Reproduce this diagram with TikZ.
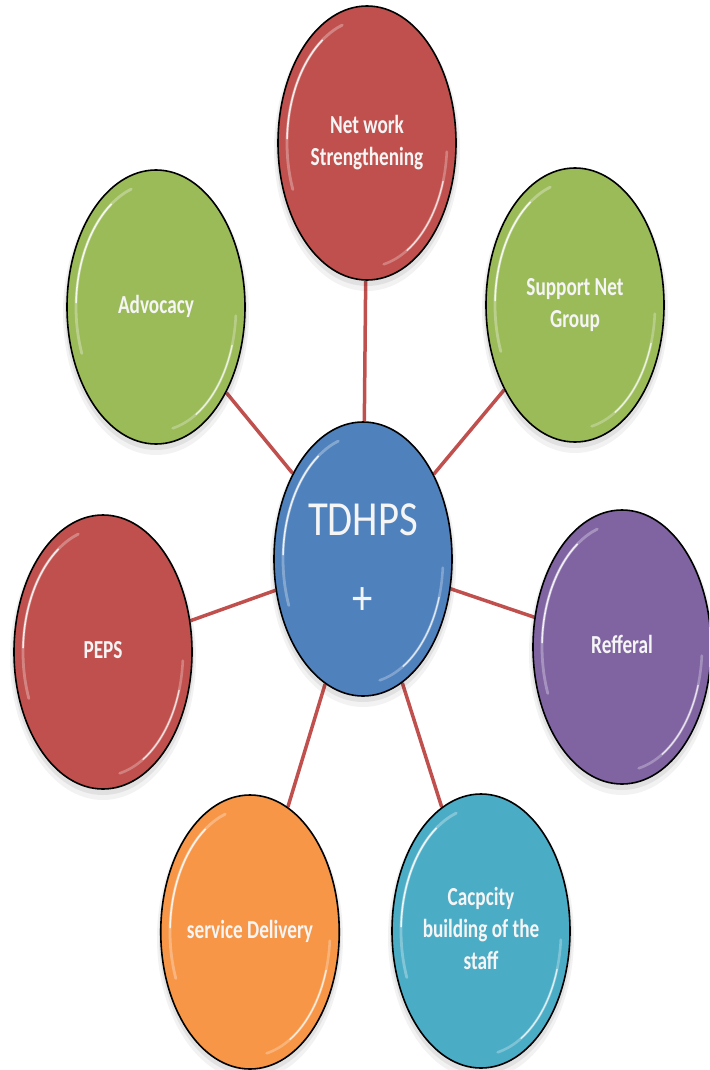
\documentclass[tikz,border=0pt]{standalone}
\usepackage{graphicx}
\usepackage{fontspec}
\setmainfont{Carlito}
\usetikzlibrary{shapes.geometric,backgrounds}
\definecolor{ored}{HTML}{C0504D}
\definecolor{ogreen}{HTML}{9BBB59}
\definecolor{oblue}{HTML}{4F81BD}
\definecolor{opurple}{HTML}{8064A2}
\definecolor{oaqua}{HTML}{4BACC6}
\definecolor{oorange}{HTML}{F79646}
\tikzset{
  bub/.style={ellipse, draw=black, line width=1.6pt, minimum width=178, minimum height=274,
    inner sep=0pt, text=white!96!black, font=\fontsize{26}{32}\selectfont\bfseries},
  conn/.style={draw=ored, line width=3.5pt},
  hl/.style={draw=white, line cap=round},
  shadowfill/.style={fill=black},
}
\newcommand\lbl[1]{\scalebox{0.74}[1]{\begin{tabular}{@{}c@{}}#1\end{tabular}}}
\newcommand\gloss[1]{%
  \draw[hl, line width=2.8pt, opacity=0.30] ([shift={(252:80 and 124)}]#1.center) arc[start angle=252, end angle=158, x radius=80, y radius=124];
  \draw[hl, line width=1.6pt, opacity=0.85] ([shift={(236:80 and 124)}]#1.center) arc[start angle=236, end angle=182, x radius=80, y radius=124];
  \draw[hl, line width=2.6pt, opacity=0.28] ([shift={(4:80 and 124)}]#1.center) arc[start angle=4, end angle=78, x radius=80, y radius=124];
  \draw[hl, line width=1.4pt, opacity=0.75] ([shift={(18:80 and 124)}]#1.center) arc[start angle=18, end angle=60, x radius=80, y radius=124];
}
\newcommand\shadowat[2]{%
  \fill[shadowfill, opacity=0.05] (#1,#2+6) ellipse[x radius=93, y radius=142];
  \fill[shadowfill, opacity=0.07] (#1,#2+4) ellipse[x radius=91, y radius=139];
}
\begin{document}
\begin{tikzpicture}[x=1pt,y=-1pt]
\useasboundingbox (0,0) rectangle (709,1070);
\clip (0,0) rectangle (709,1070);

\shadowat{367}{143}
\node[bub, fill=ored] (net) at (367,143) {\lbl{Net work\\Strengthening}};
\gloss{net}

\shadowat{156}{307}
\node[bub, fill=ogreen] (adv) at (156,307) {\lbl{Advocacy}};
\gloss{adv}

\shadowat{575}{305}
\node[bub, fill=ogreen] (sup) at (575,305) {\lbl{Support Net\\Group}};
\gloss{sup}

\shadowat{363}{559}
\node[bub, fill=oblue, font=\fontsize{49}{79}\selectfont] (tdh) at (363,559)
  {\scalebox{0.83}[1]{\begin{tabular}{@{}c@{}}TDHPS\\+\end{tabular}}};
\gloss{tdh}

\shadowat{103}{652}
\node[bub, fill=ored] (peps) at (103,652) {\lbl{PEPS}};
\gloss{peps}

\shadowat{622}{647}
\node[bub, fill=opurple] (ref) at (622,647) {\lbl{Refferal}};
\gloss{ref}

\shadowat{250}{932}
\node[bub, fill=oorange] (svc) at (250,932) {\lbl{service Delivery}};
\gloss{svc}

\shadowat{481}{931}
\node[bub, fill=oaqua] (cap) at (481,931) {\lbl{Cacpcity\\building of the\\staff}};
\gloss{cap}

\begin{scope}[on background layer]
  \draw[conn] (tdh) -- (net);
  \draw[conn] (tdh) -- (adv);
  \draw[conn] (tdh) -- (sup);
  \draw[conn] (tdh) -- (peps);
  \draw[conn] (tdh) -- (ref);
  \draw[conn] (tdh) -- (svc);
  \draw[conn] (tdh) -- (cap);
\end{scope}
\end{tikzpicture}
\end{document}
